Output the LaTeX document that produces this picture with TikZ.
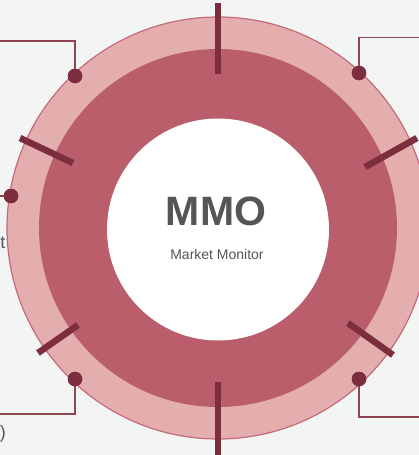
\documentclass[tikz,border=0pt]{standalone}
\usepackage{fontspec}
\setmainfont{Liberation Sans}
\definecolor{bgc}{HTML}{F3F4F4}
\definecolor{lightring}{HTML}{E4AEAF}
\definecolor{darkring}{HTML}{BA5E6C}
\definecolor{edgec}{HTML}{C46A78}
\definecolor{tickc}{HTML}{7C2E3F}
\definecolor{linec}{HTML}{8F4452}
\definecolor{textc}{HTML}{555555}
\begin{document}
\begin{tikzpicture}[x=1pt,y=-1pt,
  tickbar/.style={draw=tickc,line width=6.5pt},
  dotnode/.style={circle,fill=tickc,inner sep=0pt,minimum size=14.5pt},
  leader/.style={draw=linec,line width=1.4pt},
  fragtext/.style={text=textc,font=\fontsize{18}{20}\selectfont,inner sep=0pt}]
\useasboundingbox (0,0) rectangle (419,455);
\fill[bgc] (0,0) rectangle (419,455);
\begin{scope}
\clip (0,0) rectangle (419,455);
\coordinate (c) at (218,228);
\fill[lightring,draw=edgec,line width=1.2pt] (c) circle (211);
\fill[darkring] (c) circle (179);
\fill[white] (218,229.5) circle (111);
% ticks
\draw[tickbar] (218,3) -- (218,74);
\draw[tickbar] (218,382) -- (218,458);
\draw[tickbar] (20,138) -- (73,163);
\draw[tickbar] (365,167) -- (417,138);
\draw[tickbar] (78,325) -- (38,353);
\draw[tickbar] (348,323) -- (393,355);
% leaders
\coordinate (ul1) at (75,41);
\coordinate (ul2) at (-2,41);
\coordinate (ur1) at (359,37.5);
\coordinate (ur2) at (421,37.5);
\coordinate (ml1) at (-2,196);
\coordinate (ll1) at (75,414);
\coordinate (ll2) at (-2,414);
\coordinate (lr1) at (359,417);
\coordinate (lr2) at (421,417);
\node[dotnode] (dul) at (75,76) {};
\node[dotnode] (dur) at (359,73) {};
\node[dotnode] (dml) at (11,196) {};
\node[dotnode] (dll) at (75,379) {};
\node[dotnode] (dlr) at (359,379) {};
\draw[leader] (dul.center) -- (ul1) -- (ul2);
\draw[leader] (dur.center) -- (ur1) -- (ur2);
\draw[leader] (dml.center) -- (ml1);
\draw[leader] (dll.center) -- (ll1) -- (ll2);
\draw[leader] (dlr.center) -- (lr1) -- (lr2);
\node[dotnode] at (dul) {};
\node[dotnode] at (dur) {};
\node[dotnode] at (dml) {};
\node[dotnode] at (dll) {};
\node[dotnode] at (dlr) {};
% fragments of cut-off labels
\node[fragtext,anchor=base east] (tfrag) at (5.5,248) {t};
\node[fragtext,anchor=base east] (pfrag) at (6,438) {)};
\end{scope}
% center text
\node[text=textc,font=\bfseries\fontsize{41}{44}\selectfont,inner sep=0pt,anchor=base] (mmo) at (216,225) {MMO};
\node[text=textc,font=\fontsize{14}{16}\selectfont,inner sep=0pt,anchor=base] (mm) at (217,259) {Market Monitor};
\end{tikzpicture}
\end{document}
